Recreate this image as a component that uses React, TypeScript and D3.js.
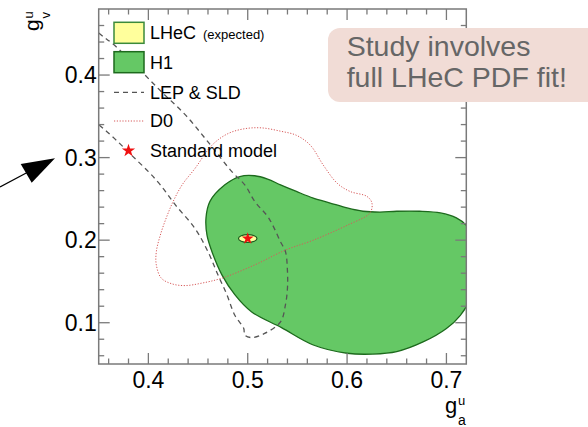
import React, { useEffect, useRef } from "react";
import * as d3 from "d3";

// axis ranges and ticks (g_a^u horizontally, g_v^u vertically)
const xDomain = [0.35, 0.72];
const yDomain = [0.05, 0.48];
const xMajor = [0.4, 0.5, 0.6, 0.7];
const yMajor = [0.1, 0.2, 0.3, 0.4];
const xMinor = d3.range(18, 36).map((i) => i / 50);
const yMinor = d3.range(3, 24).map((i) => i / 50);

// H1 68% contour (ga, gv)
const h1Contour = [
  [0.492, 0.277], [0.507, 0.278], [0.52, 0.274], [0.533, 0.267], [0.549, 0.259],
  [0.566, 0.251], [0.583, 0.245], [0.6, 0.239], [0.616, 0.235], [0.633, 0.234],
  [0.65, 0.235], [0.673, 0.235], [0.694, 0.233], [0.71, 0.227], [0.72, 0.218],
  [0.728, 0.2], [0.731, 0.17], [0.726, 0.134], [0.714, 0.109], [0.7, 0.093],
  [0.677, 0.077], [0.65, 0.065], [0.626, 0.062], [0.6, 0.063], [0.566, 0.073],
  [0.534, 0.094], [0.504, 0.113], [0.487, 0.134], [0.474, 0.158], [0.464, 0.186],
  [0.459, 0.206], [0.458, 0.227], [0.462, 0.247], [0.477, 0.267],
];

// LEP & SLD contour
const lepContour = [
  [0.331, 0.473], [0.35, 0.451], [0.366, 0.436], [0.39, 0.408], [0.413, 0.38],
  [0.437, 0.352], [0.46, 0.319], [0.484, 0.283], [0.497, 0.267], [0.507, 0.247],
  [0.521, 0.227], [0.533, 0.198], [0.538, 0.186], [0.54, 0.162], [0.54, 0.142],
  [0.538, 0.122], [0.533, 0.101], [0.517, 0.087], [0.504, 0.082], [0.497, 0.085],
  [0.496, 0.093], [0.487, 0.109], [0.479, 0.134], [0.47, 0.158], [0.46, 0.186],
  [0.447, 0.214], [0.427, 0.243], [0.412, 0.267], [0.4, 0.283], [0.383, 0.303],
  [0.366, 0.323], [0.35, 0.34], [0.331, 0.358],
];

// D0 contour
const d0Contour = [
  [0.434, 0.267], [0.447, 0.287], [0.464, 0.315], [0.48, 0.329], [0.497, 0.335],
  [0.514, 0.336], [0.533, 0.332], [0.549, 0.327], [0.563, 0.315], [0.576, 0.291],
  [0.59, 0.269], [0.603, 0.259], [0.62, 0.253], [0.625, 0.245], [0.623, 0.233],
  [0.6, 0.218], [0.566, 0.2], [0.538, 0.188], [0.507, 0.17], [0.474, 0.154],
  [0.454, 0.148], [0.437, 0.145], [0.424, 0.147], [0.413, 0.154], [0.408, 0.17],
  [0.408, 0.186], [0.412, 0.206], [0.418, 0.227], [0.425, 0.247],
];

// LHeC expected: centre and half-widths
const lhecCentre = [0.5, 0.202];
const lhecHalf = [0.0093, 0.0048];
// Standard model point
const smPoint = [0.5, 0.202];

const legendLabels = ["LHeC", "H1", "LEP & SLD", "D0", "Standard model"];

const FONT = "'Liberation Sans', Arial, Helvetica, sans-serif";

function Chart() {
  const svgRef = useRef<SVGSVGElement>(null);

  useEffect(() => {
    const svg = d3.select(svgRef.current);
    svg.selectAll("*").remove();
    const left = 98.7, right = 466.3, top = 9, bottom = 364;
    const frame = "#7a7a7a";

    const x = d3.scaleLinear().domain(xDomain).range([left, right]);
    const y = d3.scaleLinear().domain(yDomain).range([bottom, top]);

    const contour = d3
      .line<number[]>()
      .x((d) => x(d[0]))
      .y((d) => y(d[1]))
      .curve(d3.curveCatmullRomClosed.alpha(0.5));

    svg.append("rect").attr("width", 588).attr("height", 427).attr("fill", "#fff");

    svg
      .append("defs")
      .append("clipPath")
      .attr("id", "plotArea")
      .append("rect")
      .attr("x", left)
      .attr("y", top)
      .attr("width", right - left)
      .attr("height", bottom - top);

    const plot = svg.append("g").attr("clip-path", "url(#plotArea)");

    plot
      .append("path")
      .datum(h1Contour)
      .attr("d", contour)
      .attr("fill", "#65c865")
      .attr("stroke", "#1d6a1d")
      .attr("stroke-width", 1.3);

    plot
      .append("ellipse")
      .attr("cx", x(lhecCentre[0]))
      .attr("cy", y(lhecCentre[1]))
      .attr("rx", x(lhecCentre[0] + lhecHalf[0]) - x(lhecCentre[0]))
      .attr("ry", y(lhecCentre[1]) - y(lhecCentre[1] + lhecHalf[1]))
      .attr("fill", "#ffff9c")
      .attr("stroke", "#1d5a1d")
      .attr("stroke-width", 1.2);

    plot
      .append("path")
      .datum(lepContour)
      .attr("d", contour)
      .attr("fill", "none")
      .attr("stroke", "#555")
      .attr("stroke-width", 1.3)
      .attr("stroke-dasharray", "5,4");

    plot
      .append("path")
      .datum(d0Contour)
      .attr("d", contour)
      .attr("fill", "none")
      .attr("stroke", "#d65a5a")
      .attr("stroke-width", 1)
      .attr("stroke-dasharray", "1.2,1.6");

    const star = d3.symbol(d3.symbolStar, 45);
    plot
      .append("path")
      .attr("d", star())
      .attr("transform", `translate(${x(smPoint[0])},${y(smPoint[1])})`)
      .attr("fill", "#f01010");

    // frame and inward ticks on all four sides
    svg
      .append("rect")
      .attr("x", left)
      .attr("y", top)
      .attr("width", right - left)
      .attr("height", bottom - top)
      .attr("fill", "none")
      .attr("stroke", frame)
      .attr("stroke-width", 1.5);

    const ticks = svg.append("g").attr("stroke", frame).attr("stroke-width", 1.3);
    const tickLen = (v: number, majors: number[]) =>
      majors.some((m) => Math.abs(m - v) < 1e-6) ? 11 : 5.5;
    xMinor.forEach((t) => {
      const len = tickLen(t, xMajor);
      ticks.append("line").attr("x1", x(t)).attr("x2", x(t)).attr("y1", bottom).attr("y2", bottom - len);
      ticks.append("line").attr("x1", x(t)).attr("x2", x(t)).attr("y1", top).attr("y2", top + len);
    });
    yMinor.forEach((t) => {
      const len = tickLen(t, yMajor);
      ticks.append("line").attr("y1", y(t)).attr("y2", y(t)).attr("x1", left).attr("x2", left + len);
      ticks.append("line").attr("y1", y(t)).attr("y2", y(t)).attr("x1", right).attr("x2", right - len);
    });

    // tick labels
    svg
      .append("g")
      .selectAll("text")
      .data(xMajor)
      .join("text")
      .attr("x", (d) => x(d))
      .attr("y", bottom + 24)
      .attr("text-anchor", "middle")
      .attr("font-family", FONT)
      .attr("font-size", 23)
      .text((d) => d.toFixed(1));

    svg
      .append("g")
      .selectAll("text")
      .data(yMajor)
      .join("text")
      .attr("x", left - 2)
      .attr("y", (d) => y(d) + 8)
      .attr("text-anchor", "end")
      .attr("font-family", FONT)
      .attr("font-size", 23)
      .text((d) => d.toFixed(1));

    // axis titles
    const xt = svg.append("g").attr("font-family", FONT);
    xt.append("text").attr("x", 445).attr("y", 413).attr("font-size", 22).text("g");
    xt.append("text").attr("x", 458).attr("y", 405).attr("font-size", 13).text("u");
    xt.append("text").attr("x", 458).attr("y", 425).attr("font-size", 14).text("a");

    const yt = svg
      .append("g")
      .attr("font-family", FONT)
      .attr("transform", "translate(38.5,31) rotate(-90)");
    yt.append("text").attr("x", 0).attr("y", 0).attr("font-size", 21).text("g");
    yt.append("text").attr("x", 12.5).attr("y", -5.5).attr("font-size", 13).text("u");
    yt.append("text").attr("x", 12.5).attr("y", 11).attr("font-size", 13).text("v");

    // legend
    const rowY = [32.8, 62.2, 92.3, 121, 150.7];
    const lg = svg.append("g").attr("font-family", FONT);
    lg.append("rect")
      .attr("x", 114).attr("y", rowY[0] - 10.5).attr("width", 30).attr("height", 21)
      .attr("fill", "#ffff9c").attr("stroke", "#3b8a3b").attr("stroke-width", 1.5);
    lg.append("rect")
      .attr("x", 114).attr("y", rowY[1] - 10.5).attr("width", 30).attr("height", 21)
      .attr("fill", "#65c865").attr("stroke", "#1d6a1d").attr("stroke-width", 1.5);
    lg.append("line")
      .attr("x1", 114).attr("x2", 144).attr("y1", rowY[2]).attr("y2", rowY[2])
      .attr("stroke", "#555").attr("stroke-width", 1.3).attr("stroke-dasharray", "5,4");
    lg.append("line")
      .attr("x1", 114).attr("x2", 144).attr("y1", rowY[3]).attr("y2", rowY[3])
      .attr("stroke", "#d65a5a").attr("stroke-width", 1).attr("stroke-dasharray", "1.2,1.6");
    lg.append("path")
      .attr("d", d3.symbol(d3.symbolStar, 55)())
      .attr("transform", `translate(128.5,${rowY[4]})`)
      .attr("fill", "#f01010");

    legendLabels.forEach((label, i) => {
      const t = lg
        .append("text")
        .attr("x", 150)
        .attr("y", rowY[i] + 6.3)
        .attr("font-size", 18)
        .text(label);
      if (i === 0) {
        t.append("tspan").attr("dx", 7).attr("font-size", 13).text("(expected)");
      }
    });

    // annotation box
    svg
      .append("rect")
      .attr("x", 328)
      .attr("y", 28)
      .attr("width", 275)
      .attr("height", 74)
      .attr("rx", 12)
      .attr("fill", "#f1dcd6");
    const note = svg.append("g").attr("font-family", FONT).attr("font-size", 28.5).attr("fill", "#666");
    note.append("text").attr("x", 346.7).attr("y", 56).text("Study involves");
    note.append("text").attr("x", 346.7).attr("y", 87.3).text("full LHeC PDF fit!");

    // arrow pointing at the plot
    svg.append("line")
      .attr("x1", 0).attr("y1", 187).attr("x2", 30).attr("y2", 171)
      .attr("stroke", "#000").attr("stroke-width", 1.2);
    svg.append("polygon")
      .attr("points", "55,158.3 20.7,164 31.7,182.7")
      .attr("fill", "#000");
  }, []);

  return (
    <svg
      ref={svgRef}
      width={588}
      height={427}
      style={{ position: "absolute", left: 0, top: 0 }}
    ></svg>
  );
}

export default function App() {
  return <Chart />;
}
